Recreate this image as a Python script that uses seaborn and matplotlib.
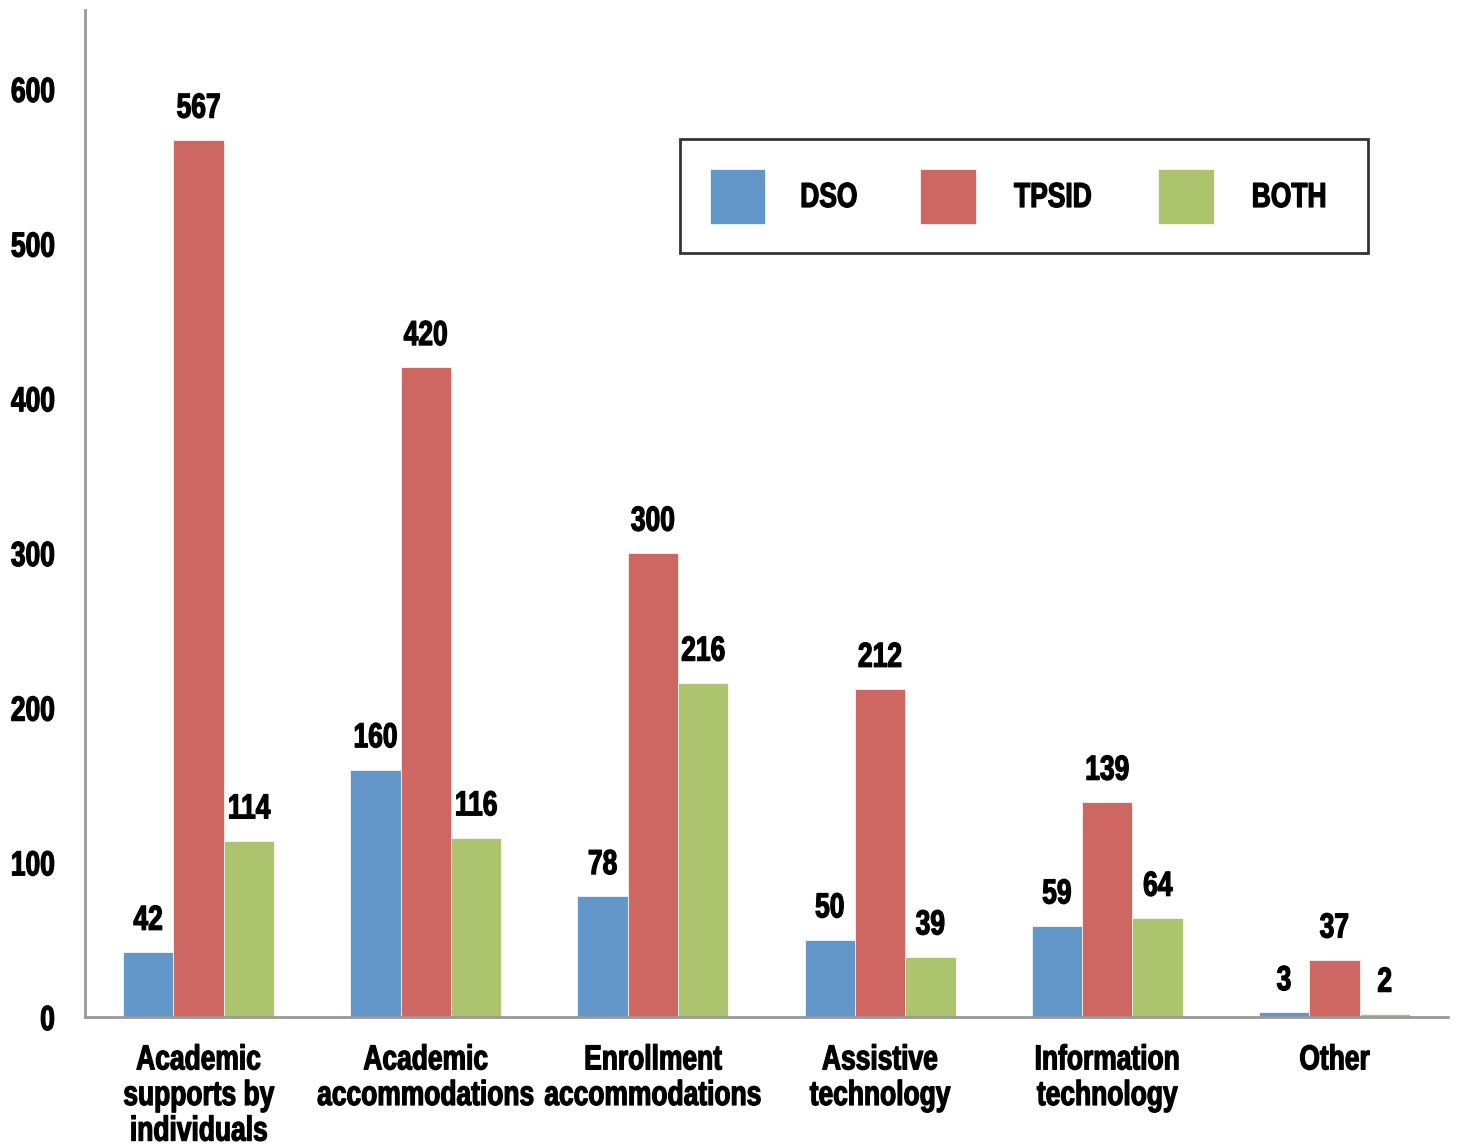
import matplotlib
matplotlib.use("Agg")
import matplotlib.pyplot as plt
import seaborn as sns
import pandas as pd
import numpy as np
from matplotlib.patheffects import AbstractPathEffect
from matplotlib.transforms import Affine2D

categories = ["Academic\nsupports by\nindividuals", "Academic\naccommodations",
              "Enrollment\naccommodations", "Assistive\ntechnology",
              "Information\ntechnology", "Other"]
series = ["DSO", "TPSID", "BOTH"]
dso = [42, 160, 78, 50, 59, 3]
tpsid = [567, 420, 300, 212, 139, 37]
both = [114, 116, 216, 39, 64, 2]
yticks = [0, 100, 200, 300, 400, 500, 600]
colors = ["#6397C9", "#CE6761", "#ABC46D"]


class Squeeze(AbstractPathEffect):
    """Horizontally condense and embolden glyphs (emulates a condensed bold face)."""
    def __init__(self, sx=0.76, anchor="center", stroke=0.9):
        super().__init__()
        self.sx = sx
        self.anchor = anchor
        self.stroke = stroke

    def draw_path(self, renderer, gc, tpath, affine, rgbFace=None):
        ext = tpath.get_extents()
        if self.anchor == "right":
            cx = ext.x1
        elif self.anchor == "left":
            cx = ext.x0
        else:
            cx = (ext.x0 + ext.x1) / 2
        t = Affine2D().translate(-cx, 0).scale(self.sx, 1).translate(cx, 0) + affine
        gc0 = renderer.new_gc()
        gc0.copy_properties(gc)
        gc0.set_linewidth(self.stroke)
        gc0.set_foreground(rgbFace if rgbFace is not None else "black")
        gc0.set_joinstyle("round")
        renderer.draw_path(gc0, tpath, t, rgbFace)
        gc0.restore()


sns.set_theme(style="white")
plt.rcParams['font.family'] = ['Liberation Sans', 'DejaVu Sans']
plt.rcParams['font.weight'] = 'bold'
plt.rcParams['text.color'] = 'black'
plt.rcParams['xtick.color'] = 'black'
plt.rcParams['ytick.color'] = 'black'

FS = 25

df = pd.DataFrame({
    "category": categories * 3,
    "series": [s for s in series for _ in categories],
    "value": dso + tpsid + both,
})

fig = plt.figure(figsize=(14.58, 11.46), dpi=100)
ax = fig.add_axes([85/1458, 1 - 1017/1146, (1448-85)/1458, (1017-10)/1146])

sns.barplot(data=df, x="category", y="value", hue="series", order=categories,
            hue_order=series, palette=colors, width=0.665, saturation=1,
            edgecolor="white", linewidth=0.5, ax=ax, legend=True)

ax.set_xlim(-0.5, len(categories) - 0.5)
ax.set_ylim(0, 651)
ax.set_yticks(yticks)
ylabels = ax.set_yticklabels([str(v) for v in yticks], fontsize=FS, fontweight='bold')
ax.set_xlabel("")
ax.set_ylabel("")

ax.set_xticks(range(len(categories)))
xlabels = ax.set_xticklabels(categories, fontsize=FS, fontweight='bold',
                             linespacing=1.1, va='top')
ax.tick_params(axis='x', length=0, pad=19)
ax.set_xticks(np.arange(-0.5, len(categories)), minor=True)
ax.tick_params(axis='x', which='minor', length=7.5, width=2, color="#999999",
               direction='out')
ax.tick_params(axis='y', length=7.5, width=2, color="#999999", direction='out', pad=14)

for lbl in ylabels:
    lbl.set_path_effects([Squeeze(anchor="right")])
for lbl in xlabels:
    lbl.set_path_effects([Squeeze()])

for s in ["top", "right"]:
    ax.spines[s].set_visible(False)
for s in ["left", "bottom"]:
    ax.spines[s].set_color("#999999")
    ax.spines[s].set_linewidth(2)

for cont in ax.containers:
    texts = ax.bar_label(cont, padding=11, fontsize=FS, fontweight='bold', color='black')
    for t in texts:
        t.set_path_effects([Squeeze()])

leg = ax.legend(loc="upper left", bbox_to_anchor=((680-85)/1363, (1017-139)/1007),
                ncol=3, frameon=True, fancybox=False, fontsize=FS,
                handlelength=1.6, handleheight=2.06, columnspacing=1.55,
                handletextpad=0.75, borderpad=0.85, borderaxespad=0)
leg.get_frame().set_edgecolor("black")
leg.get_frame().set_linewidth(2)
for t in leg.get_texts():
    t.set_fontweight('bold')
    t.set_color('black')
    t.set_path_effects([Squeeze()])

fig.savefig("out.png", dpi=100)
